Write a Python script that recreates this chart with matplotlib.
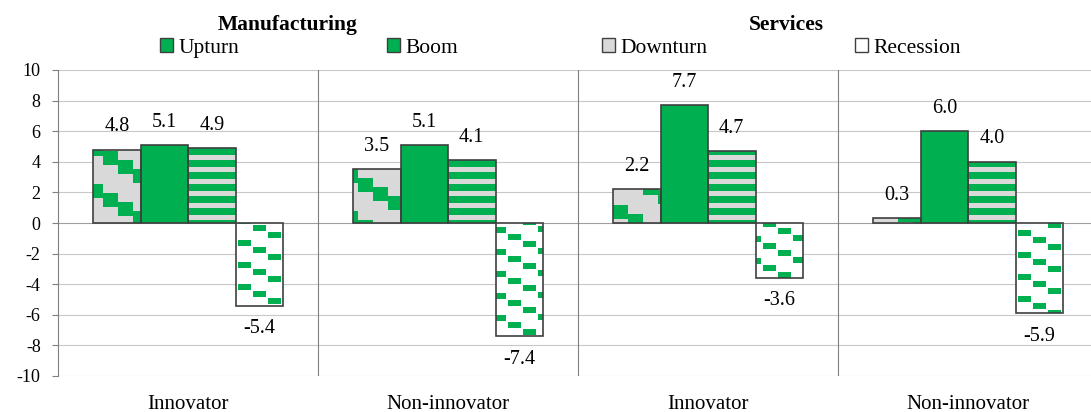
import numpy as np
import matplotlib.pyplot as plt
from matplotlib.patches import Rectangle, Patch
from matplotlib.collections import PatchCollection

############################################################################################################
# data
groups = ["Innovator", "Non-innovator", "Innovator", "Non-innovator"]
sectors = ["Manufacturing", "Services"]
phases = ["Upturn", "Boom", "Downturn", "Recession"]

upturn = [4.8, 3.5, 2.2, 0.3]
boom = [5.1, 5.1, 7.7, 6.0]
downturn = [4.9, 4.1, 4.7, 4.0]
recession = [-5.4, -7.4, -3.6, -5.9]

yticks = list(range(-10, 11, 2))

############################################################################################################
GREEN = '#00B050'
GRAY = '#D9D9D9'
EDGE = '#3F3F3F'

plt.rcParams['font.family'] = ['Liberation Serif', 'DejaVu Serif']
plt.rcParams['font.size'] = 15
plt.rcParams['axes.unicode_minus'] = False

W, H = 1091, 412
fig = plt.figure(figsize=(W/100, H/100), dpi=100)
ax = fig.add_axes([58/W, 36/H, 1040/W, 306/H])
ax.set_xlim(-0.5, 3.5)
ax.set_ylim(-10, 10)

#pixels per data unit, used to lay out the fill patterns
sx = 1040 / 4.0
sy = 306 / 20.0

def fill_pattern(bar, step_w, dash_w, drop, h, period):
    #green dashes stepping down to the right, repeated every `period` px, clipped to the bar
    x0 = bar.get_x(); x1 = x0 + bar.get_width()
    ya = bar.get_y(); yb = ya + bar.get_height()
    px0 = (x0 + 0.5)*sx; px1 = (x1 + 0.5)*sx
    py0 = (min(ya, yb) + 10)*sy; py1 = (max(ya, yb) + 10)*sy
    rects = []
    for j in range(int(px0//step_w) - 1, int(px1//step_w) + 2):
        shift = -j*drop
        for k in range(int((py0 - shift)//period) - 1, int((py1 - shift)//period) + 2):
            ytop = k*period + shift
            rects.append(Rectangle((j*step_w/sx - 0.5, (ytop - h)/sy - 10), dash_w/sx, h/sy))
    pc = PatchCollection(rects, facecolor=GREEN, edgecolor='none', zorder=2.5)
    ax.add_collection(pc)
    pc.set_clip_path(bar)   #after add_collection, otherwise the axes patch replaces it

x = np.arange(len(groups))
width = 47.5/260
series = [upturn, boom, downturn, recession]
faces = [GRAY, GREEN, GRAY, 'white']
patterns = [(15, 15, 9, 14, 42), None, (2000, 2000, 0, 6.5, 12), (15, 13, 7, 5.5, 22)]

for i, vals in enumerate(series):
    pos = x + (i - 1.5)*width
    bars = ax.bar(pos, vals, width, color=faces[i], edgecolor='none', zorder=2)
    if patterns[i] is not None:
        for b in bars:
            fill_pattern(b, *patterns[i])
    ax.bar(pos, vals, width, fill=False, edgecolor=EDGE, linewidth=1.2, zorder=3)
    for xp, v in zip(pos, vals):
        ax.annotate(f"{v:.1f}", (xp, v), xytext=(0, 16.5 if v > 0 else -16.5),
                    textcoords='offset points', ha='center', va='center', fontsize=14.5)

#grid and separators
for yv in yticks:
    ax.axhline(yv, color='#A0A0A0' if yv == 0 else '#C8C8C8', linewidth=0.8, zorder=1)
for xv in [0.5, 1.5, 2.5]:
    ax.axvline(xv, color='#808080', linewidth=0.8, zorder=1)

for s in ['top', 'right', 'bottom']:
    ax.spines[s].set_visible(False)
ax.spines['left'].set_color('#808080')
ax.set_yticks(yticks)
ax.tick_params(axis='y', direction='out', length=4.5, color='#808080', pad=8, labelsize=13)
ax.set_xticks(x, groups)
ax.tick_params(axis='x', length=0, pad=13.5)

#sector titles and legend
fig.text(288/W, 1 - 25/H, sectors[0], ha='center', va='center', weight='bold', fontsize=15.5)
fig.text(786/W, 1 - 25/H, sectors[1], ha='center', va='center', weight='bold', fontsize=15.5)

leg_x = [160, 387, 602, 855]
for name, face, lx in zip(phases, [GREEN, GREEN, GRAY, 'white'], leg_x):
    fig.legend(handles=[Patch(facecolor=face, edgecolor=EDGE, linewidth=1)], labels=[name],
               loc='center left', bbox_to_anchor=(lx/W, 1 - 48/H), frameon=False,
               borderpad=0, borderaxespad=0, handlelength=0.6, handleheight=0.6,
               handletextpad=0.25, fontsize=15.5)

plt.savefig("out.png", dpi=100)
